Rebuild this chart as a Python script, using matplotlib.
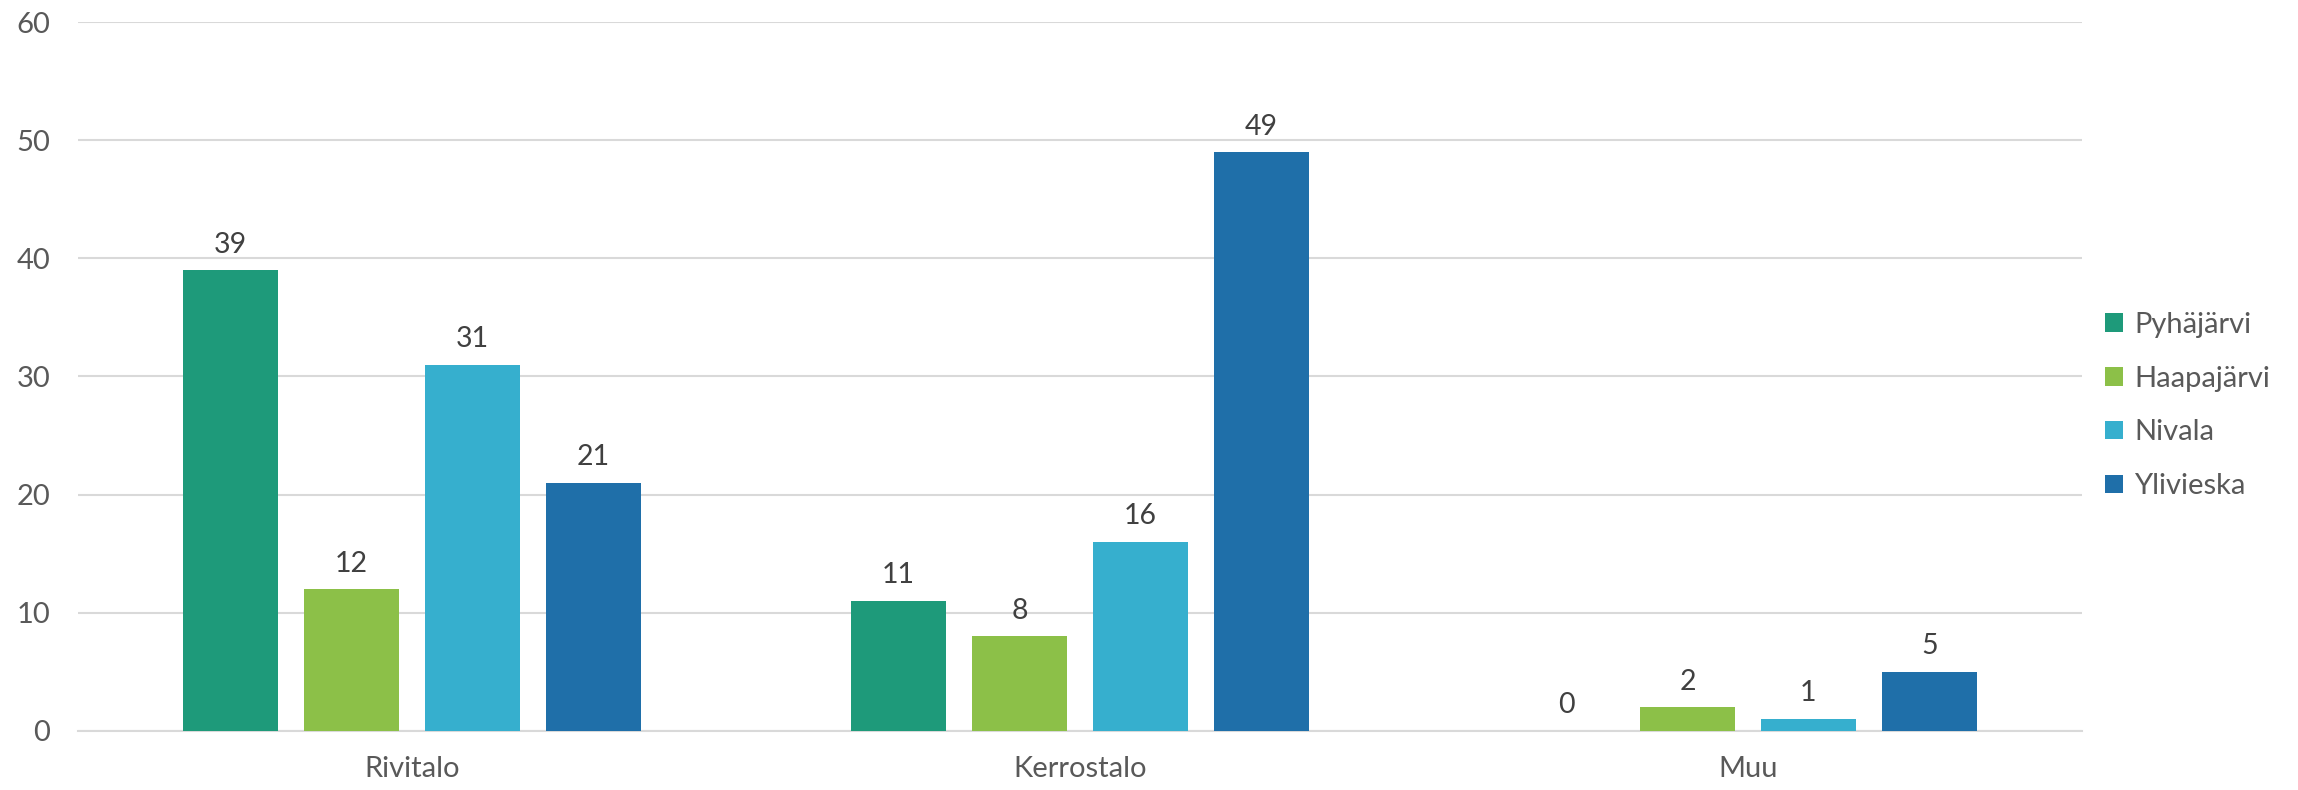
import matplotlib.pyplot as plt
import numpy as np

categories = ['Rivitalo', 'Kerrostalo', 'Muu']
series = ['Pyhäjärvi', 'Haapajärvi', 'Nivala', 'Ylivieska']
pyhajarvi = [39, 11, 0]
haapajarvi = [12, 8, 2]
nivala = [31, 16, 1]
ylivieska = [21, 49, 5]
colors = ['#1E9A7A', '#8CC048', '#36AFCE', '#1F6FA9']

plt.rcParams['font.family'] = ['Lato', 'DejaVu Sans']

fig = plt.figure(figsize=(22.98, 7.90), dpi=100)
ax = fig.add_axes([0.034, 0.075, 0.872, 0.897])

x = np.arange(len(categories))
width = 0.142
step = 0.181
for i, (name, vals) in enumerate(zip(series, [pyhajarvi, haapajarvi, nivala, ylivieska])):
    pos = x + (i - 1.5) * step
    ax.bar(pos, vals, width, color=colors[i], label=name, zorder=3)
    for xp, v in zip(pos, vals):
        ax.annotate(str(v), (xp, v), xytext=(0, 9), textcoords='offset points',
                    ha='center', va='bottom', fontsize=20.5, color='#404040')

ax.set_xlim(-0.5, 2.5)
ax.set_ylim(0, 60)
ax.set_yticks(range(0, 61, 10))
ax.set_xticks(x)
ax.set_xticklabels(categories)
ax.tick_params(axis='both', length=0, labelsize=21, colors='#595959')
ax.tick_params(axis='x', pad=18)
ax.tick_params(axis='y', pad=20)
ax.grid(axis='y', color='#D9D9D9', linewidth=1.5, zorder=0)
for s in ['top', 'right', 'left']:
    ax.spines[s].set_visible(False)
ax.spines['bottom'].set_color('#D9D9D9')
ax.spines['bottom'].set_linewidth(1.5)

leg = ax.legend(loc='center left', bbox_to_anchor=(1.0, 0.459), frameon=False,
                fontsize=21, handlelength=0.6, handleheight=0.6,
                handletextpad=0.4, labelspacing=0.95, borderaxespad=0.4)
for t in leg.get_texts():
    t.set_color('#595959')

fig.savefig('out.png', dpi=100)
